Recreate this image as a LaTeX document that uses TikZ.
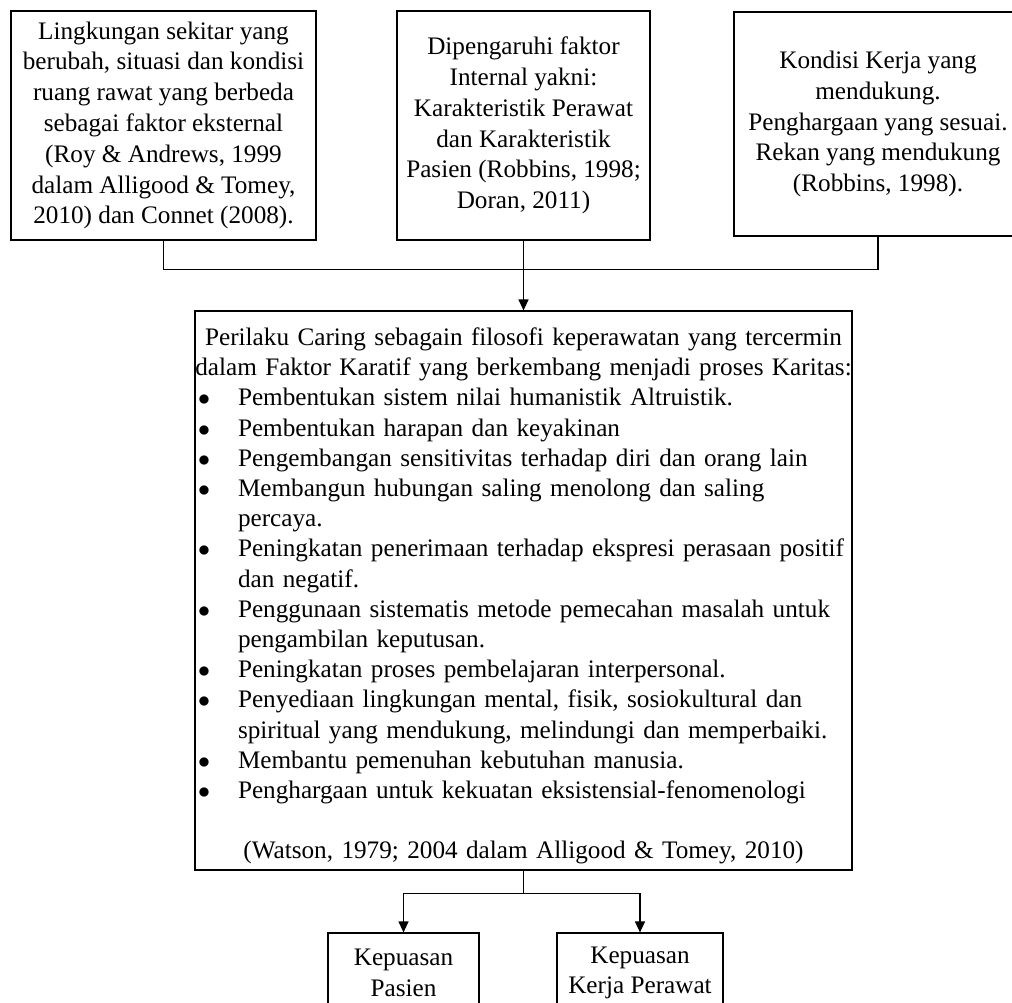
\documentclass[tikz,border=0pt]{standalone}
\usepackage{fontspec}
\setmainfont{Liberation Serif}
\usetikzlibrary{positioning}
\usetikzlibrary{arrows.meta}
\hfuzz=5pt
\newcommand{\butir}[1]{\par\noindent\hangindent=21.5pt\hangafter=1\makebox[21.5pt][l]{\hspace{1.5pt}$\bullet$}#1\par}

\begin{document}
\begin{tikzpicture}[x=0.5pt, y=-0.5pt,
		kotak/.style = {draw, fill=white, line width=0.6pt, inner sep=0pt, align=center, font=\fontsize{12.6}{15.4}\selectfont},
		r/.style = {-{Triangle[length=5.5pt, width=5pt]}, line width=0.6pt},
		]
	\useasboundingbox (0,0) rectangle (1012,1002);
	
	\node[kotak, minimum width=152.5pt, minimum height=114.5pt] (lingkungan) at (163.5,125.5) {Lingkungan sekitar yang\\ berubah, situasi dan kondisi\\ ruang rawat yang berbeda\\ sebagai faktor eksternal\\ (Roy \& Andrews, 1999\\ dalam Alligood \& Tomey,\\ 2010) dan Connet (2008).};
	\node[kotak, minimum width=126.5pt, minimum height=114.5pt] (internal) at (523.5,125.5) {Dipengaruhi faktor\\ Internal yakni:\\ Karakteristik Perawat\\ dan Karakteristik\\ Pasien (Robbins, 1998;\\ Doran, 2011)};
	\node[kotak, minimum width=144pt, minimum height=112pt] (kondisi) at (878,124) {Kondisi Kerja yang\\ mendukung.\\ Penghargaan yang sesuai.\\ Rekan yang mendukung\\ (Robbins, 1998).};
	
	\node[kotak, text width=328.5pt, inner xsep=0pt, minimum height=279.5pt, align=left, font=\fontsize{12.6}{15.1}\selectfont] (caring) at (523.5,590.5) {%
		\parindent=0pt\parskip=0pt
		{\centering\rule{0pt}{14.5pt}Perilaku Caring sebagain filosofi keperawatan yang tercermin\par
		dalam Faktor Karatif yang berkembang menjadi proses Karitas:\par}
		\raggedright
		\butir{Pembentukan sistem nilai humanistik Altruistik.}
		\butir{Pembentukan harapan dan keyakinan}
		\butir{Pengembangan sensitivitas terhadap diri dan orang lain}
		\butir{Membangun hubungan saling menolong dan saling\newline percaya.}
		\butir{Peningkatan penerimaan terhadap ekspresi perasaan positif\newline dan negatif.}
		\butir{Penggunaan sistematis metode pemecahan masalah untuk\newline pengambilan keputusan.}
		\butir{Peningkatan proses pembelajaran interpersonal.}
		\butir{Penyediaan lingkungan mental, fisik, sosiokultural dan\newline spiritual yang mendukung, melindungi dan memperbaiki.}
		\butir{Membantu pemenuhan kebutuhan manusia.}
		\butir{Penghargaan untuk kekuatan eksistensial-fenomenologi}
		\vspace{15.1pt}
		{\centering (Watson, 1979; 2004 dalam Alligood \& Tomey, 2010)\par}};
	
	\node[kotak, minimum width=75.5pt, minimum height=40pt] (pasien) at (403.5,973) {Kepuasan\\ Pasien};
	\node[kotak, minimum width=83pt, minimum height=40pt] (perawat) at (640,973) {Kepuasan\\ Kerja Perawat};
	
	\draw[line width=0.6pt] (lingkungan.south) -- ++(0,29) -| (kondisi.south);
	\draw[r] (internal.south) -- (caring.north);
	\draw[line width=0.6pt] (caring.south) -- ++(0,23) coordinate (cabang);
	\draw[r] (cabang) -| (pasien.north);
	\draw[r] (cabang) -| (perawat.north);
\end{tikzpicture}
\end{document}
